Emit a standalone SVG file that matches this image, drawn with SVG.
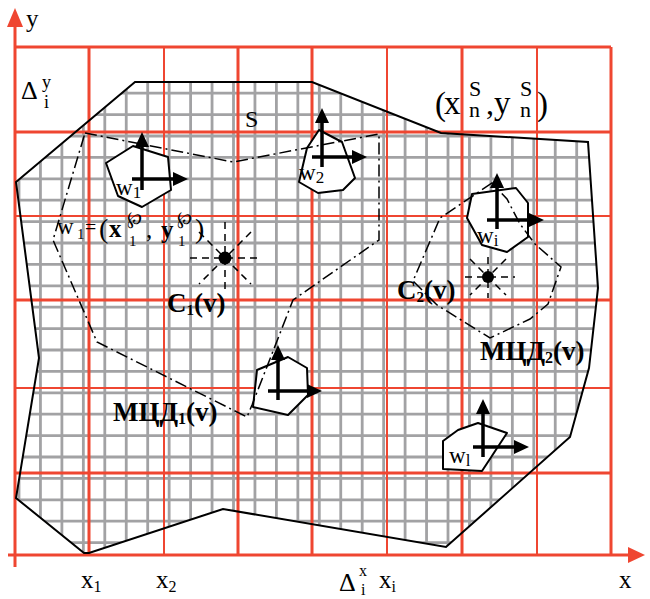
<svg xmlns="http://www.w3.org/2000/svg" width="650" height="599" viewBox="0 0 650 599">
<style>
.t{font-family:"Liberation Serif","DejaVu Serif",serif;fill:#000}
.b{font-weight:bold}
.red{stroke:#ef4631;fill:none}
.thk{stroke-width:3}
.thn{stroke-width:2}
.dd{stroke:#000;stroke-width:1.5;fill:none;stroke-dasharray:12 4 2 4}
.w{fill:#fff;stroke:#000;stroke-width:2;stroke-linejoin:round}
.ar{stroke:#000;stroke-width:3.5;fill:none;marker-end:url(#ah)}
.cs{stroke:#000;stroke-width:1.5;stroke-dasharray:7 5;fill:none}
</style>
<defs>
<marker id="ah" markerUnits="userSpaceOnUse" markerWidth="16" markerHeight="14" refX="0" refY="7" orient="auto">
<path d="M0,0 L15,7 L0,14 z" fill="#000"/>
</marker>
<clipPath id="sclip">
<polygon points="16,182 135,82 312,82 441,133 588,142 598,288 589,368 570,437 446,547 223,509 89,553 84,553 16,498 39,358"/>
</clipPath>
</defs>
<rect width="650" height="599" fill="#fff"/>

<g id="region-S">
<g clip-path="url(#sclip)">
<path stroke="#a2a2a4" stroke-width="2.8" fill="none" d="M19 60V560M40.45 60V560M61.9 60V560M83.35 60V560M104.8 60V560M126.25 60V560M147.7 60V560M169.15 60V560M190.6 60V560M212.05 60V560M233.5 60V560M254.95 60V560M276.4 60V560M297.85 60V560M319.3 60V560M340.75 60V560M362.2 60V560M383.65 60V560M405.1 60V560M426.55 60V560M448 60V560M469.45 60V560M490.9 60V560M512.35 60V560M533.8 60V560M555.25 60V560M576.7 60V560M598.15 60V560
M10 71.8H605M10 93.2H605M10 114.6H605M10 136H605M10 157.4H605M10 178.8H605M10 200.2H605M10 221.6H605M10 243H605M10 264.4H605M10 285.8H605M10 307.2H605M10 328.6H605M10 350H605M10 371.4H605M10 392.8H605M10 414.2H605M10 435.6H605M10 457H605M10 478.4H605M10 499.8H605M10 521.2H605M10 542.6H605"/>
</g>
</g>

<g id="red-grid">
<path class="red thk" d="M89 47V555M238 47V555M312 47V555M462 47V555M611 47V555"/>
<path class="red thn" d="M164 47V555M387 47V555M537 47V555"/>
<path class="red thk" d="M15 47H611M15 132H611M15 300H611M15 473H611"/>
<path class="red thn" d="M15 216H611M15 388H611"/>
</g>

<g id="axes">
<path class="red thk" d="M15 567V25M8 555H630"/>
<polygon points="15,8 7,27 23,27" fill="#ef4631"/>
<polygon points="645,555 628,547 628,563" fill="#ef4631"/>
<text class="t" x="26" y="27" font-size="25">y</text>
<text class="t" x="619" y="588" font-size="25">x</text>
<text class="t" x="81" y="588" font-size="25">x<tspan font-size="16" dy="4">1</tspan></text>
<text class="t" x="156" y="588" font-size="25">x<tspan font-size="16" dy="4">2</tspan></text>
<text class="t" x="339" y="591" font-size="26">Δ<tspan font-size="16" x="359" y="576">x</tspan><tspan font-size="16" x="361" y="595">i</tspan></text>
<text class="t" x="379" y="588" font-size="25">x<tspan font-size="16" dy="4">i</tspan></text>
<text class="t" x="21" y="99" font-size="26">Δ<tspan font-size="18" x="42" y="88">y</tspan><tspan font-size="18" x="44" y="108">i</tspan></text>
</g>

<g id="S-outline">
<polygon points="16,182 135,82 312,82 441,133 588,142 598,288 589,368 570,437 446,547 223,509 89,553 84,553 16,498 39,358" fill="none" stroke="#000" stroke-width="2"/>
<text class="t" x="245" y="127" font-size="24">S</text>
<text class="t" x="435" y="115" font-size="33">(<tspan x="444" y="114">x</tspan><tspan font-size="22" x="469" y="96">S</tspan><tspan font-size="22" x="469" y="117">n</tspan><tspan font-size="32" x="486" y="114">,</tspan><tspan x="494" y="114">y</tspan><tspan font-size="22" x="520" y="96">S</tspan><tspan font-size="22" x="520" y="117">n</tspan><tspan x="537" y="115">)</tspan></text>
</g>

<g id="w1">
<polygon class="w" points="106,163 133,146 168,157 171,190 142,207 118,196"/>
</g>
<g id="w2">
<polygon class="w" points="319,130 342,142 355,178 343,190 318,193 299,182 307,148"/>
</g>
<g id="wi">
<polygon class="w" points="472,194 516,188 528,203 528,237 507,252 482,245 467,218"/>
</g>
<g id="wl">
<polygon class="w" points="443,441 458,430 478,423 507,433 482,471 443,469"/>
</g>
<g id="wb">
<polygon class="w" points="257,370 288,357 307,368 308,395 288,415 253,407"/>
</g>

<g id="connectors">
<path id="mcd1" class="dd" d="M85,133 L233,162 L379,134 L379,240 L293,300 L252,405 L247,417 L97,342 L53,240 Z"/>
<path id="mcd2" class="dd" d="M492,183 L440,218 L413,281 L437,305 L490,338 L530,319 L548,304 L561,267 L535,244 L520,224 L507,199 Z"/>
</g>

<g id="C1">
<path class="cs" d="M190 258H260M225 222V293M199 232L251 284M251 232L199 284"/>
<circle cx="225" cy="258" r="6.5" fill="#000"/>
<text class="t b" x="167" y="312" font-size="27">C<tspan font-size="15" dy="3">1</tspan><tspan dy="-3">(v)</tspan></text>
</g>
<g id="C2">
<path class="cs" d="M465 277H515M488 257V298M470 259L506 295M506 259L470 295"/>
<circle cx="488" cy="277" r="6" fill="#000"/>
<text class="t b" x="397" y="299" font-size="27">C<tspan font-size="15" dy="3">2</tspan><tspan dy="-3">(v)</tspan></text>
</g>

<g id="arrows">
<path class="ar" d="M142 190V147"/><path class="ar" d="M132 179H173"/>
<path class="ar" d="M322 167V123"/><path class="ar" d="M312 157H352"/>
<path class="ar" d="M497 229V188"/><path class="ar" d="M487 220H529"/>
<path class="ar" d="M483 457V414"/><path class="ar" d="M473 447H514"/>
<path class="ar" d="M278 400V360"/><path class="ar" d="M268 391H307"/>
</g>

<g id="labels">
<text class="t" x="116" y="195" font-size="23">w<tspan font-size="17" dy="3">1</tspan></text>
<text class="t" x="299" y="180" font-size="23">w<tspan font-size="17" dy="3">2</tspan></text>
<text class="t" x="477" y="243" font-size="23">w<tspan font-size="17" dy="3">i</tspan></text>
<text class="t" x="449" y="463" font-size="23">w<tspan font-size="17" dy="3">l</tspan></text>
<text class="t" x="57" y="234" font-size="23">w<tspan font-size="15" x="77" y="239">1</tspan><tspan font-size="20" x="85" y="234">=</tspan><tspan font-size="28" x="99" y="238">(</tspan><tspan class="b" font-size="25" x="109" y="237">x</tspan><tspan font-size="18" x="127" y="224">℘</tspan><tspan font-size="15" x="129" y="246">1</tspan><tspan font-size="25" x="146" y="238">,</tspan><tspan class="b" font-size="25" x="161" y="238">y</tspan><tspan font-size="18" x="177" y="224">℘</tspan><tspan font-size="15" x="178" y="246">1</tspan><tspan font-size="28" x="195" y="238">)</tspan></text>
<text class="t b" x="113" y="421" font-size="27">МЦД<tspan font-size="16" dy="3">1</tspan><tspan dy="-3">(v)</tspan></text>
<text class="t b" x="480" y="360" font-size="27">МЦД<tspan font-size="16" dy="3">2</tspan><tspan dy="-3">(v)</tspan></text>
</g>
</svg>
